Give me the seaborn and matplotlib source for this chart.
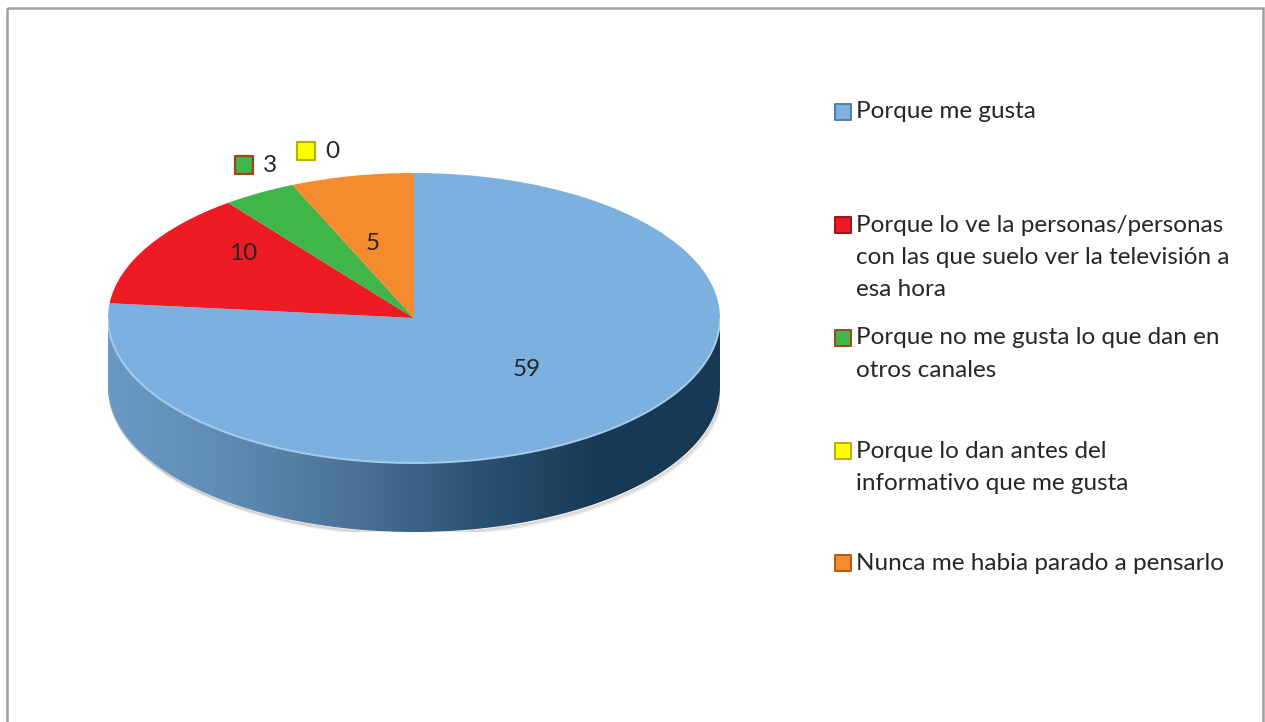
import numpy as np
import matplotlib
matplotlib.use("Agg")
import matplotlib.pyplot as plt
from matplotlib.patches import Polygon, Rectangle
from matplotlib.colors import LinearSegmentedColormap
import seaborn as sns

# data
categories = [
    "Porque me gusta",
    "Porque lo ve la personas/personas\ncon las que suelo ver la televisión a\nesa hora",
    "Porque no me gusta lo que dan en\notros canales",
    "Porque lo dan antes del\ninformativo que me gusta",
    "Nunca me habia parado a pensarlo",
]
values = [59, 10, 3, 0, 5]
slice_colors = ["#7cb1df", "#ed1c24", "#3fb54a", "#ffff00", "#f58a2f"]
marker_edges = ["#4f7fa8", "#a01018", "#a0441a", "#b8b000", "#b05a10"]

sns.set_style("white")
plt.rcParams["font.family"] = ["Lato", "DejaVu Sans"]
TXT = "#262626"
FS = 17.5

W, H = 1265, 722
fig = plt.figure(figsize=(W / 100, H / 100), dpi=100)

# pie geometry in pixels
cx, cy, rx, ry, depth = 414, 318, 306, 145, 69
d = depth / ry

ax = fig.add_axes([(cx - rx) / W, (H - (cy + ry + depth)) / H,
                   2 * rx / W, (2 * ry + depth) / H])
wedges, _ = ax.pie(values, colors=slice_colors, startangle=90,
                   counterclock=False, radius=1,
                   wedgeprops=dict(linewidth=0, zorder=3))
ax.set_aspect("auto")
ax.set_xlim(-1, 1)
ax.set_ylim(-1 - d, 1)
ax.axis("off")

# side wall of the 3d disc (front half is all "Porque me gusta")
t = np.linspace(np.pi, 2 * np.pi, 200)
top_edge = np.column_stack([np.cos(t), np.sin(t)])
bot_edge = np.column_stack([np.cos(t[::-1]), np.sin(t[::-1]) - d])
wall = Polygon(np.vstack([top_edge, bot_edge]), closed=True,
               facecolor="none", edgecolor="none")
ax.add_patch(wall)
cmap = LinearSegmentedColormap.from_list(
    "wall", ["#6a9ac4", "#5d8bb3", "#4a7396", "#2b5374", "#173b56", "#163a55"])
grad = np.linspace(0, 1, 256).reshape(1, -1)
im = ax.imshow(grad, cmap=cmap, extent=(-1, 1, -1 - d, 0.05), aspect="auto",
               zorder=1, interpolation="bilinear")
im.set_clip_path(wall)

# soft shadow under the wall
for off, a in [(0.012, 0.35), (0.024, 0.18)]:
    ax.plot(np.cos(t) + off * 0.3, np.sin(t) - d - off, color="#9a8f86",
            lw=1.6, alpha=a, zorder=0, solid_capstyle="round")

# light rim on front top edge
ax.plot(np.cos(t), np.sin(t), color="#a8cbea", lw=1.4, zorder=4)

# overlay in pixel coordinates for labels, legend and frame
ov = fig.add_axes([0, 0, 1, 1])
ov.set_xlim(0, W)
ov.set_ylim(H, 0)
ov.axis("off")
ov.add_patch(Rectangle((7, 8), 1256, 740, fill=False, edgecolor="#a0a0a0",
                       lw=1.8, clip_on=True))

label_pos = [(527, 369), (243, 253), (263, 165), (325, 151), (373, 243)]
for i, (v, (x, y)) in enumerate(zip(values, label_pos)):
    if i in (2, 3):
        ov.scatter([x - 19], [y], marker="s", s=150, color=slice_colors[i],
                   edgecolors=marker_edges[i], linewidths=1.6, zorder=5)
        ov.text(x, y, str(v), ha="left", va="center", fontsize=FS, color=TXT)
    else:
        ov.text(x, y, str(v), ha="center", va="center", fontsize=FS, color=TXT)

# legend
legend_y = [112, 225, 338, 451, 563]
line_h = 32.3
for lab, y, c, ec in zip(categories, legend_y, slice_colors, marker_edges):
    ov.scatter([843], [y], marker="s", s=140, color=c, edgecolors=ec,
               linewidths=1.4, zorder=5)
    for k, line in enumerate(lab.split("\n")):
        ov.text(856, y + k * line_h, line, ha="left", va="center",
                fontsize=FS, color=TXT)

fig.savefig("out.png", dpi=100, facecolor="white")
